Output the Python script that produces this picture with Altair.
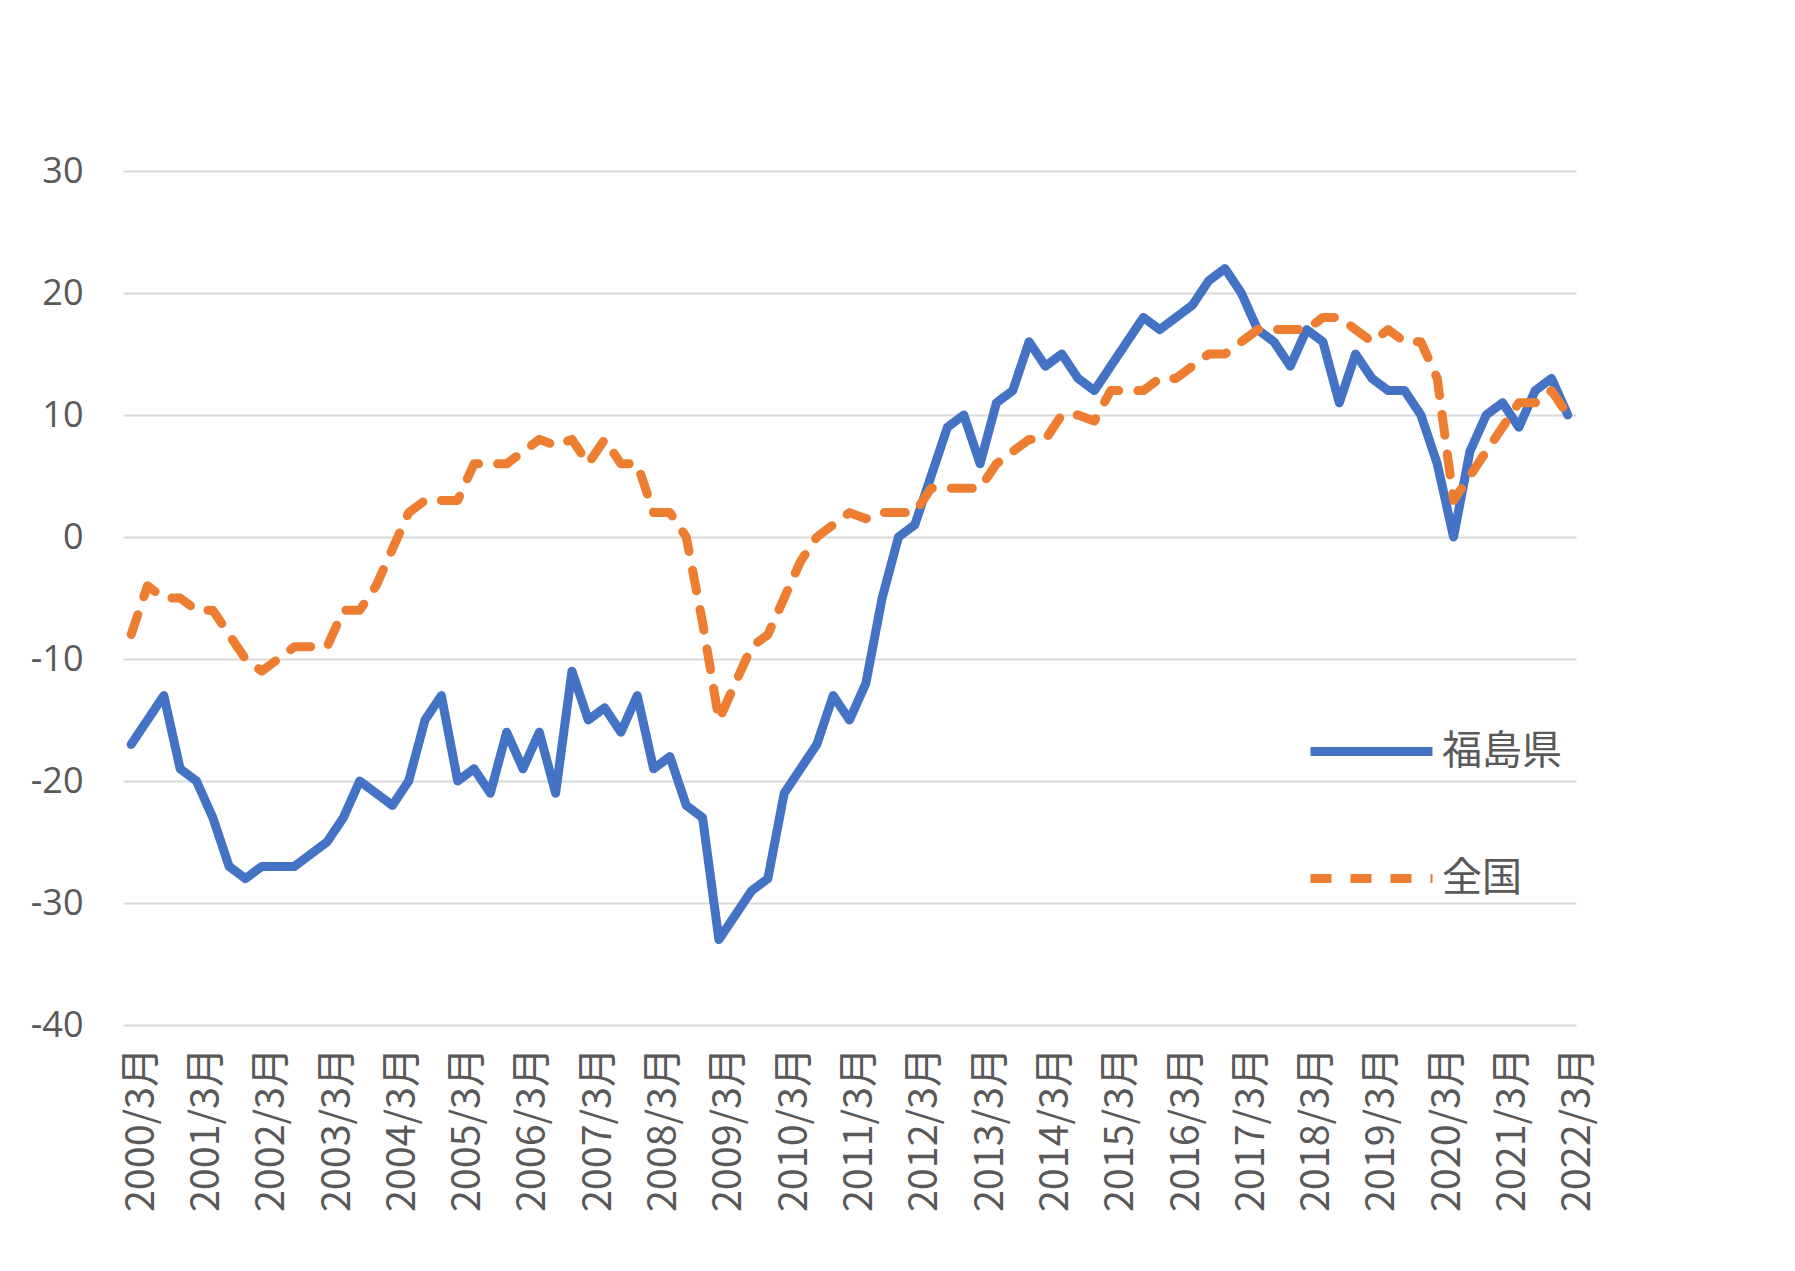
import altair as alt
import pandas as pd

# Quarterly periods 2000/3月 ... 2022/3月
periods = [f"{y}/{m}月" for y in range(2000, 2023) for m in (3, 6, 9, 12)][:89]
tick_labels = [f"{y}/3月" for y in range(2000, 2023)]
series_names = ["福島県", "全国"]
series_colors = ["#4472C4", "#ED7D31"]

fukushima = [
    -17, -15, -13, -19, -20, -23, -27, -28,
    -27, -27, -27, -26, -25, -23, -20, -21,
    -22, -20, -15, -13, -20, -19, -21, -16,
    -19, -16, -21, -11, -15, -14, -16, -13,
    -19, -18, -22, -23, -33, -31, -29, -28,
    -21, -19, -17, -13, -15, -12, -5, 0,
    1, 5, 9, 10, 6, 11, 12, 16,
    14, 15, 13, 12, 14, 16, 18, 17,
    18, 19, 21, 22, 20, 17, 16, 14,
    17, 16, 11, 15, 13, 12, 12, 10,
    6, 0, 7, 10, 11, 9, 12, 13,
    10,
]

zenkoku = [
    -8, -4, -5, -5, -6, -6, -8, -10,
    -11, -10, -9, -9, -9, -6, -6, -4,
    -1, 2, 3, 3, 3, 6, 6, 6,
    7, 8, 7.5, 8, 6, 8, 6, 6,
    2, 2, 0, -7, -15, -12, -9, -8,
    -5, -2, 0, 1, 2, 1.5, 2, 2,
    2, 4, 4, 4, 4, 6, 7, 8,
    8, 10, 10, 9.5, 12, 12, 12, 13,
    13, 14, 15, 15, 16, 17, 17, 17,
    17, 18, 18, 17, 16, 17, 16, 16,
    13, 3, 5, 7, 9, 11, 11, 12,
    10,
]

rows = []
for i, p in enumerate(periods):
    rows.append({"period": p, "order": i, "series": series_names[0], "value": fukushima[i]})
    rows.append({"period": p, "order": i, "series": series_names[1], "value": zenkoku[i]})
df = pd.DataFrame(rows)

legend_common = dict(
    orient="none",
    legendX=1183,
    legendY=515,
    title=None,
    padding=0,
    rowPadding=41,
    symbolType="stroke",
    symbolSize=14884,
    symbolStrokeWidth=9,
    labelOffset=5,
    labelFont="Noto Sans CJK JP",
    labelFontSize=40,
    labelColor="#595959",
)

chart = (
    alt.Chart(df)
    .mark_line(strokeWidth=9, strokeCap="round", strokeJoin="round")
    .encode(
        x=alt.X(
            "period:O",
            sort=periods,
            scale=alt.Scale(type="point", padding=0.5),
            axis=alt.Axis(
                values=tick_labels,
                labelAngle=270,
                labelAlign="right",
                labelBaseline="middle",
                labelFont="Noto Sans CJK JP",
                labelFontSize=39.5,
                labelColor="#595959",
                labelPadding=22,
                labelOffset=10,
                ticks=False,
                tickSize=0,
                domain=False,
                grid=False,
                labelOverlap=False,
                title=None,
            ),
        ),
        y=alt.Y(
            "value:Q",
            scale=alt.Scale(domain=[-40, 30], nice=False, zero=False),
            axis=alt.Axis(
                values=list(range(-40, 31, 10)),
                labelExpr="datum.value + ''",
                labelFont="Open Sans",
                labelFontSize=36,
                labelColor="#595959",
                labelPadding=40,
                ticks=False,
                tickSize=0,
                domain=False,
                gridColor="#d9d9d9",
                gridWidth=2,
                title=None,
            ),
        ),
        color=alt.Color(
            "series:N",
            sort=series_names,
            scale=alt.Scale(domain=series_names, range=series_colors),
            legend=alt.Legend(**legend_common),
        ),
        strokeDash=alt.StrokeDash(
            "series:N",
            sort=series_names,
            scale=alt.Scale(domain=series_names, range=[[1, 0], [21, 19]]),
            legend=alt.Legend(**legend_common),
        ),
        order="order:Q",
    )
    .properties(
        width=1453,
        height=854,
        autosize=alt.AutoSizeParams(type="none"),
        padding={"left": 115, "top": 163, "right": 200, "bottom": 230},
        background="white",
    )
    .configure_view(stroke=None)
)

chart.save("out.html", embed_options={"renderer": "svg", "actions": False})
